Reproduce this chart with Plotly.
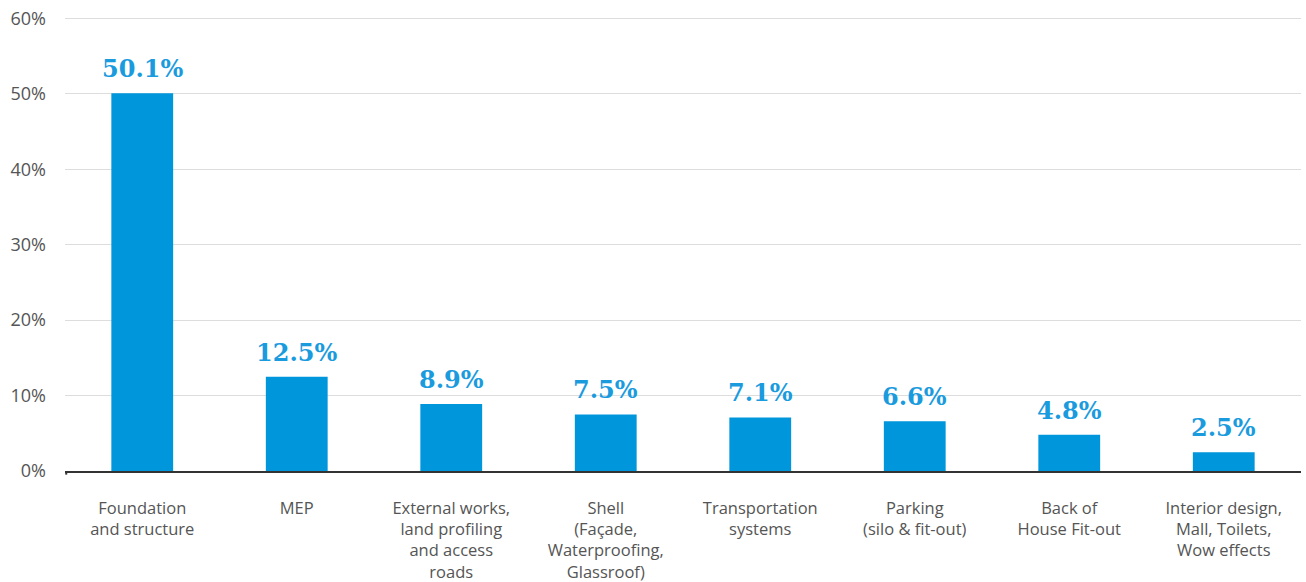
import plotly.graph_objects as go

categories = [
    "Foundation<br>and structure",
    "MEP",
    "External works,<br>land profiling<br>and access<br>roads",
    "Shell<br>(Façade,<br>Waterproofing,<br>Glassroof)",
    "Transportation<br>systems",
    "Parking<br>(silo & fit-out)",
    "Back of<br>House Fit-out",
    "Interior design,<br>Mall, Toilets,<br>Wow effects",
]
values = [50.1, 12.5, 8.9, 7.5, 7.1, 6.6, 4.8, 2.5]
y_ticks = [0, 10, 20, 30, 40, 50, 60]

fig = go.Figure()
fig.add_trace(go.Bar(
    x=categories,
    y=values,
    marker=dict(color="#0096DB", line=dict(width=0)),
    hoverinfo="skip",
))

for c, v in zip(categories, values):
    fig.add_annotation(
        x=c, y=v, xref="x", yref="y", text=f"{v:.1f}%",
        showarrow=False, yanchor="bottom", yshift=8,
        font=dict(family="DejaVu Serif", size=24, color="#1A9BDE", weight="bold"),
    )

fig.update_layout(
    width=1306, height=582,
    margin=dict(l=65, r=5, t=17, b=111, autoexpand=False),
    paper_bgcolor="white", plot_bgcolor="white",
    bargap=0.6,
    showlegend=False,
    font=dict(family="Open Sans", color="#555555"),
)
fig.update_xaxes(
    automargin=False,
    showline=True, linecolor="#333333", linewidth=1.5,
    tickfont=dict(size=16.5, color="#555555", family="Open Sans"),
    ticks="", ticklabelstandoff=21, showgrid=False,
)
fig.update_yaxes(
    automargin=False,
    range=[0, 60.2], tickvals=y_ticks, ticktext=[f"{v}%" for v in y_ticks],
    showgrid=True, gridcolor="#DDDDDD", gridwidth=1,
    zeroline=False, showline=False, ticks="",
    tickfont=dict(size=18, color="#555555", family="Open Sans"),
    ticklabelstandoff=18,
)
fig.add_shape(type="line", xref="paper", yref="paper", x0=0.001, x1=0.001, y0=0, y1=-0.008,
              line=dict(color="#333333", width=2))

fig.write_html(
    "out.html",
    config={"displayModeBar": False},
    post_script="document.body.style.margin='0';document.body.style.overflow='hidden';",
)
